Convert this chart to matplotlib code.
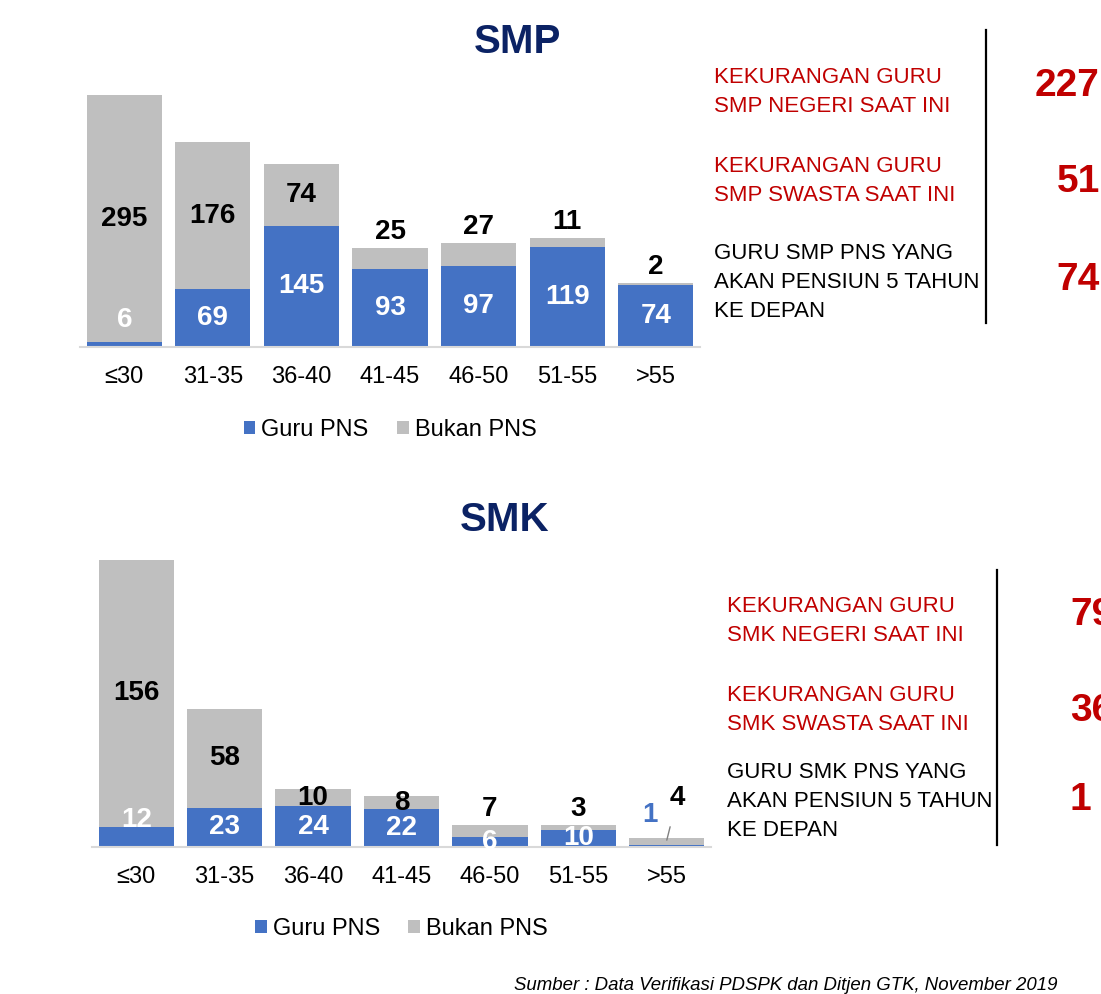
import matplotlib
matplotlib.use("Agg")
import matplotlib.pyplot as plt

plt.rcParams["font.family"] = ["Liberation Sans", "DejaVu Sans"]

# ---- data ----
age_groups = ["≤30", "31-35", "36-40", "41-45", "46-50", "51-55", ">55"]

smp_pns = [6, 69, 145, 93, 97, 119, 74]
smp_non_pns = [295, 176, 74, 25, 27, 11, 2]

smk_pns = [12, 23, 24, 22, 6, 10, 1]
smk_non_pns = [156, 58, 10, 8, 7, 3, 4]

smp_info = [
    ("KEKURANGAN GURU\nSMP NEGERI SAAT INI", "227"),
    ("KEKURANGAN GURU\nSMP SWASTA SAAT INI", "51"),
    ("GURU SMP PNS YANG\nAKAN PENSIUN 5 TAHUN\nKE DEPAN", "74"),
]
smk_info = [
    ("KEKURANGAN GURU\nSMK NEGERI SAAT INI", "79"),
    ("KEKURANGAN GURU\nSMK SWASTA SAAT INI", "36"),
    ("GURU SMK PNS YANG\nAKAN PENSIUN 5 TAHUN\nKE DEPAN", "1"),
]
source = "Sumber : Data Verifikasi PDSPK dan Ditjen GTK, November 2019"

BLUE = "#4472C4"
GRAY = "#BFBFBF"
RED = "#C00000"
NAVY = "#0B2264"

W, H = 1101, 994
fig = plt.figure(figsize=(W / 100, H / 100), dpi=100)


def px_axes(left, right, top, bottom):
    return fig.add_axes([left / W, 1 - bottom / H, (right - left) / W, (bottom - top) / H])


def draw_chart(ax, pns, non_pns, ymax, inside_min, pns_min_label, leg_y):
    x = list(range(len(age_groups)))
    ax.bar(x, pns, width=0.85, color=BLUE, label="Guru PNS")
    ax.bar(x, non_pns, width=0.85, bottom=pns, color=GRAY, label="Bukan PNS")
    ax.set_xlim(-0.5, len(x) - 0.5)
    ax.set_ylim(0, ymax)
    ax.axhline(0, color="#D9D9D9", lw=1.5, clip_on=False)
    for s in ax.spines.values():
        s.set_visible(False)
    ax.set_yticks([])
    ax.set_xticks(x)
    ax.set_xticklabels(age_groups, fontsize=17)
    ax.tick_params(axis="x", length=0, pad=14)

    for i, (p, n) in enumerate(zip(pns, non_pns)):
        # label for PNS (white, inside)
        if p >= 2:
            ax.text(i, max(p / 2, pns_min_label if i == 0 else 0), str(p),
                    ha="center", va="center", color="white",
                    fontsize=20, fontweight="bold")
        # label for non-PNS
        if n >= inside_min:
            ax.text(i, p + n / 2, str(n), ha="center", va="center",
                    color="black", fontsize=20, fontweight="bold")
        elif p >= 2:
            ax.annotate(str(n), (i, p + n), xytext=(0, 11.5), textcoords="offset points",
                        ha="center", va="center", color="black",
                        fontsize=20, fontweight="bold")
    ax.legend(loc="center", bbox_to_anchor=(0.5, leg_y), ncol=2,
              frameon=False, fontsize=17, handlelength=0.5,
              handleheight=0.5, handletextpad=0.25, columnspacing=1.2)


# ---- SMP ----
ax1 = px_axes(80, 700, 80, 347)
draw_chart(ax1, smp_pns, smp_non_pns, 319, 30, 32, -83 / 267)
fig.text(517 / W, 1 - 42 / H, "SMP", ha="center", va="center",
         fontsize=29, fontweight="bold", color=NAVY)

# ---- SMK ----
ax2 = px_axes(92, 711, 545, 847)
draw_chart(ax2, smk_pns, smk_non_pns, 177, 8, 16, -82 / 302)
fig.text(505 / W, 1 - 520 / H, "SMK", ha="center", va="center",
         fontsize=29, fontweight="bold", color=NAVY)
# >55 small bar: labels with leader line
last = len(age_groups) - 1
ax2.text(last - 0.19, smk_pns[last] + 18, str(smk_pns[last]), ha="center", va="center",
         color=BLUE, fontsize=20, fontweight="bold")
ax2.annotate(str(smk_non_pns[last]), xy=(last, smk_pns[last] + smk_non_pns[last] - 1),
             xytext=(last + 0.12, 29), textcoords="data", ha="center", va="center",
             color="black", fontsize=20, fontweight="bold",
             arrowprops=dict(arrowstyle="-", color="#808080", lw=1,
                             shrinkA=10, shrinkB=0))


# ---- side panels ----
def side_panel(x_text, ys, line_x, line_top, line_bot, num_x, num_ys, info, num_ha):
    for (label, num), y, ny in zip(info, ys, num_ys):
        color = RED if label.startswith("KEKURANGAN") else "black"
        fig.text(x_text / W, 1 - y / H, label, ha="left", va="top", color=color,
                 fontsize=16, linespacing=1.5)
        fig.text(num_x / W, 1 - ny / H, num, ha=num_ha, va="center", color=RED,
                 fontsize=28, fontweight="bold")
    fig.add_artist(plt.Line2D([line_x / W, line_x / W], [1 - line_top / H, 1 - line_bot / H],
                              color="black", lw=1.6))


side_panel(714, [67, 156, 243], 986, 30, 323, 1100, [86, 182, 280], smp_info, "right")
side_panel(727, [596, 685, 762], 997, 570, 845, 1070, [615, 711, 800], smk_info, "left")

fig.text(1057 / W, 1 - 985 / H, source, ha="right", va="center",
         fontsize=13.4, style="italic", color="black")

fig.savefig("out.png", dpi=100)
